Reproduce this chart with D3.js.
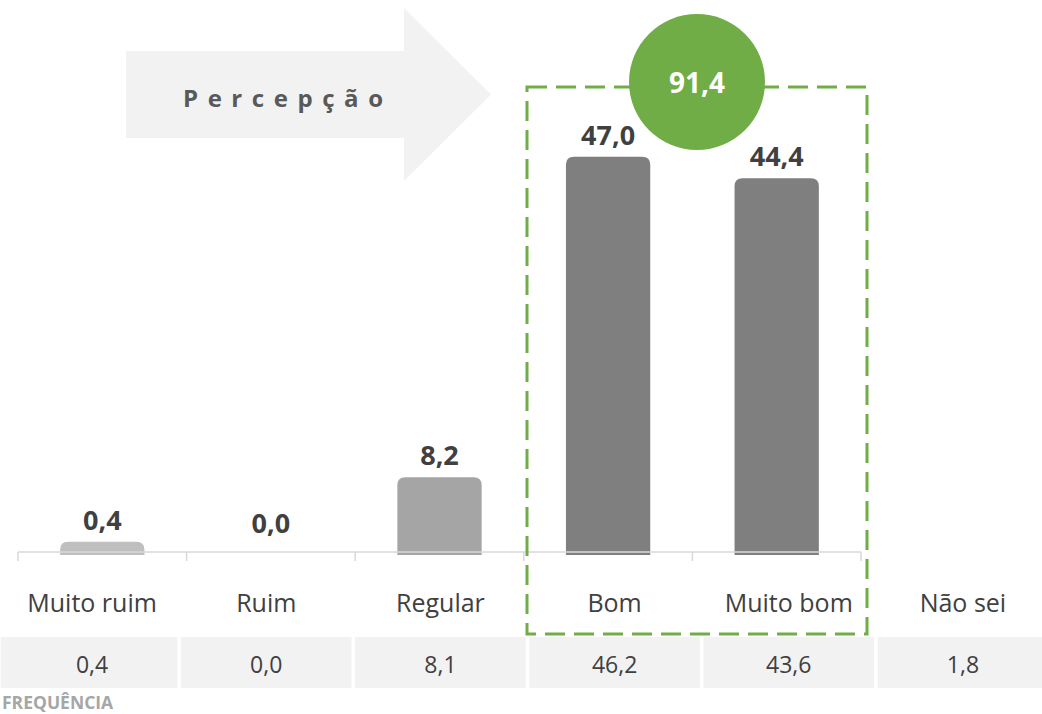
<!DOCTYPE html>
<html>
<head>
<meta charset="utf-8">
<script src="https://cdn.jsdelivr.net/npm/d3@7"></script>
<style>
  html, body { margin: 0; padding: 0; background: #ffffff; }
  svg { display: block; font-family: "Open Sans", "Noto Sans", sans-serif; }
</style>
</head>
<body>
<svg id="chart" width="1042" height="714"></svg>
<script>
// Rated categories (with bars) and the extra "Não sei" column
const categories = ["Muito ruim", "Ruim", "Regular", "Bom", "Muito bom", "Não sei"];
const barCategories = ["Muito ruim", "Ruim", "Regular", "Bom", "Muito bom"];
// Percent among valid answers (bars)
const barValues = [0.4, 0.0, 8.2, 47.0, 44.4];
// Raw frequency row shown in the table
const frequency = [0.4, 0.0, 8.1, 46.2, 43.6, 1.8];
// Positive perception total (Bom + Muito bom)
const positiveTotal = 91.4;
const titleText = "Percepção";
const footerText = "FREQUÊNCIA";

const fmt = v => v.toFixed(1).replace(".", ",");
const barColors = { "Muito ruim": "#bfbfbf", "Ruim": "#bfbfbf", "Regular": "#a5a5a5", "Bom": "#7f7f7f", "Muito bom": "#7f7f7f" };

const svg = d3.select("#chart");
const baseY = 552;
const cap = 7; // rounded top cap of each bar

const x = d3.scaleBand().domain(barCategories).range([18, 861]).paddingInner(0.5).paddingOuter(0.25);
const y = d3.scaleLinear().domain([0, 50]).range([baseY, 139]);
const xLab = d3.scaleBand().domain(categories).range([5, 1050]);

// Arrow banner
const arrow = d3.path();
arrow.moveTo(126, 51); arrow.lineTo(404, 51); arrow.lineTo(404, 8); arrow.lineTo(491, 94.5);
arrow.lineTo(404, 181); arrow.lineTo(404, 138); arrow.lineTo(126, 138); arrow.closePath();
svg.append("path").attr("d", arrow.toString()).attr("fill", "#f2f2f2");
svg.append("text").attr("x", 183).attr("y", 107)
  .attr("font-size", 24).attr("font-weight", 700).attr("fill", "#595959")
  .attr("textLength", 200).attr("lengthAdjust", "spacing")
  .text(titleText);

// Bars with rounded tops
function barPath(x0, w, top, bottom, r) {
  const p = d3.path();
  p.moveTo(x0, bottom);
  p.lineTo(x0, top + r);
  p.quadraticCurveTo(x0, top, x0 + r, top);
  p.lineTo(x0 + w - r, top);
  p.quadraticCurveTo(x0 + w, top, x0 + w, top + r);
  p.lineTo(x0 + w, bottom);
  p.closePath();
  return p.toString();
}
const bars = barCategories.map((c, i) => ({ c, v: barValues[i] }));
svg.append("g").selectAll("path").data(bars.filter(d => d.v > 0)).join("path")
  .attr("d", d => barPath(x(d.c), x.bandwidth(), y(d.v) - cap, baseY + 3, 8))
  .attr("fill", d => barColors[d.c]);

// Axis line with category separators
const step = x.step();
const axisX0 = x.range()[0];
svg.append("line").attr("x1", axisX0).attr("x2", x.range()[1]).attr("y1", baseY).attr("y2", baseY)
  .attr("stroke", "#d9d9d9").attr("stroke-width", 1.5);
svg.append("g").selectAll("line").data(d3.range(barCategories.length + 1)).join("line")
  .attr("x1", i => axisX0 + i * step).attr("x2", i => axisX0 + i * step)
  .attr("y1", baseY).attr("y2", baseY + 9)
  .attr("stroke", "#d9d9d9").attr("stroke-width", 1.5);

// Value labels
svg.append("g").selectAll("text").data(bars).join("text")
  .attr("x", d => x(d.c) + x.bandwidth() / 2)
  .attr("y", d => y(d.v) - cap - 12)
  .attr("text-anchor", "middle").attr("font-size", 27).attr("font-weight", 700).attr("fill", "#404040")
  .text(d => fmt(d.v));

// Category labels
svg.append("g").selectAll("text").data(categories).join("text")
  .attr("x", d => xLab(d) + xLab.bandwidth() / 2).attr("y", 612)
  .attr("text-anchor", "middle").attr("font-size", 25).attr("fill", "#404040")
  .text(d => d);

// Frequency table row
const cells = categories.map((c, i) => ({ c, v: frequency[i] }));
const cellW = xLab.bandwidth() - 3.5;
svg.append("g").selectAll("rect").data(cells).join("rect")
  .attr("x", d => xLab(d.c) + xLab.bandwidth() / 2 - cellW / 2 - (d.c === categories[0] ? 6 : 0))
  .attr("width", d => cellW + (d.c === categories[0] ? 6 : 0))
  .attr("y", 637).attr("height", 51).attr("fill", "#f2f2f2");
svg.append("g").selectAll("text").data(cells).join("text")
  .attr("x", d => xLab(d.c) + xLab.bandwidth() / 2).attr("y", 673)
  .attr("text-anchor", "middle").attr("font-size", 23).attr("fill", "#404040")
  .text(d => fmt(d.v));

svg.append("text").attr("x", 2).attr("y", 709)
  .attr("font-size", 17.5).attr("font-weight", 700).attr("fill", "#a6a6a6")
  .text(footerText);

// Highlight box around the positive answers
svg.append("rect").attr("x", 527).attr("y", 87).attr("width", 340).attr("height", 547)
  .attr("fill", "none").attr("stroke", "#70ad47").attr("stroke-width", 3)
  .attr("stroke-dasharray", "20 9");

svg.append("circle").attr("cx", 697).attr("cy", 82).attr("r", 68).attr("fill", "#70ad47");
svg.append("text").attr("x", 697).attr("y", 93)
  .attr("text-anchor", "middle").attr("font-size", 28).attr("font-weight", 700).attr("fill", "#ffffff")
  .text(fmt(positiveTotal));
</script>
</body>
</html>
